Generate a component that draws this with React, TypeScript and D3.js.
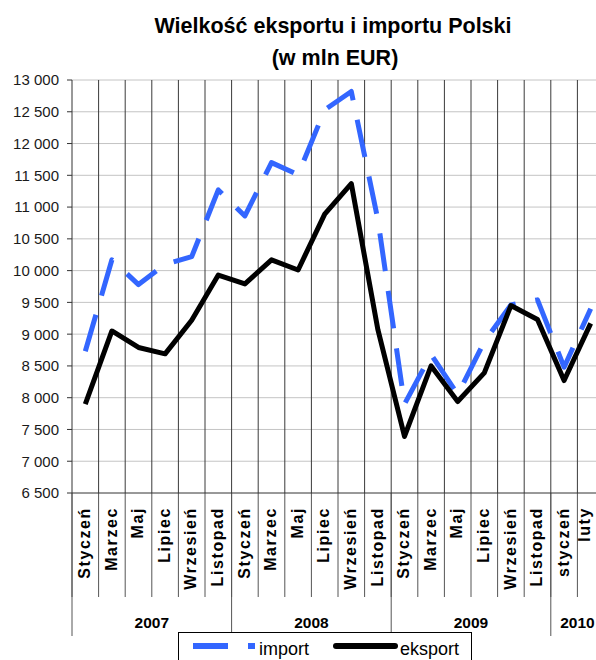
import React, { useEffect, useRef } from 'react';
import * as d3 from 'd3';

// categories (every second month)
const months = [
    'Styczeń', 'Marzec', 'Maj', 'Lipiec', 'Wrzesień', 'Listopad',
    'Styczeń', 'Marzec', 'Maj', 'Lipiec', 'Wrzesień', 'Listopad',
    'Styczeń', 'Marzec', 'Maj', 'Lipiec', 'Wrzesień', 'Listopad',
    'styczeń', 'luty',
];
const yearLabels = ['2007', '2008', '2009', '2010'];
const yearSpans = [6, 6, 6, 2];

// values in mln EUR
const importValues = [
    8730, 10170, 9780, 10100, 10220, 11270,
    10860, 11700, 11510, 12530, 12820, 10800,
    7900, 8680, 8050, 8880, 9460, 9540,
    8480, 9400,
];
const exportValues = [
    7900, 9050, 8790, 8690, 9220, 9930,
    9790, 10170, 10010, 10890, 11370, 9070,
    7390, 8500, 7940, 8390, 9450, 9230,
    8270, 9170,
];

const yTicks = d3.range(6500, 13001, 500);

export default function App() {
    const ref = useRef<SVGSVGElement>(null);

    useEffect(() => {
        const svg = d3.select(ref.current);
        svg.selectAll('*').remove();

        const W = 596, H = 660;
        const left = 72, top = 80, bottom = 493;
        const step = 26.6;
        const right = left + step * months.length;

        const x = d3.scaleBand<number>()
            .domain(d3.range(months.length))
            .range([left, right])
            .padding(0);
        const y = d3.scaleLinear().domain([6500, 13000]).range([bottom, top]);
        const fmt = (v: number) => d3.format(',')(v).replace(',', ' ');

        svg.append('rect').attr('width', W).attr('height', H).attr('fill', '#fff');

        // title
        svg.append('text')
            .attr('x', 333).attr('y', 33)
            .attr('text-anchor', 'middle')
            .style('font', 'bold 21.5px "Liberation Sans", Arial, sans-serif')
            .text('Wielkość eksportu i importu Polski');
        svg.append('text')
            .attr('x', 335).attr('y', 65)
            .attr('text-anchor', 'middle')
            .style('font', 'bold 21.5px "Liberation Sans", Arial, sans-serif')
            .text('(w mln EUR)');

        // horizontal grid
        svg.append('g').selectAll('line')
            .data(yTicks.slice(1))
            .enter().append('line')
            .attr('x1', left).attr('x2', right)
            .attr('y1', d => y(d)).attr('y2', d => y(d))
            .attr('stroke', '#c4c4c4').attr('stroke-width', 1);

        // vertical category lines inside plot
        const bounds = d3.range(months.length + 1).map(i => left + i * step);
        svg.append('g').selectAll('line')
            .data(bounds.slice(1))
            .enter().append('line')
            .attr('x1', d => d).attr('x2', d => d)
            .attr('y1', top).attr('y2', bottom)
            .attr('stroke', '#3a3a3a').attr('stroke-width', 1);

        // month separators below axis
        svg.append('g').selectAll('line')
            .data(bounds)
            .enter().append('line')
            .attr('x1', d => d).attr('x2', d => d)
            .attr('y1', bottom).attr('y2', 597)
            .attr('stroke', '#555').attr('stroke-width', 1);

        // year separators
        const yearBounds = [0, ...d3.cumsum(yearSpans)].map(i => left + i * step);
        svg.append('g').selectAll('line')
            .data(yearBounds)
            .enter().append('line')
            .attr('x1', d => d).attr('x2', d => d)
            .attr('y1', bottom).attr('y2', 636)
            .attr('stroke', '#555').attr('stroke-width', 1);

        // y axis
        svg.append('line')
            .attr('x1', left).attr('x2', left)
            .attr('y1', top).attr('y2', bottom)
            .attr('stroke', '#333');
        const yt = svg.append('g').selectAll('g')
            .data(yTicks)
            .enter().append('g');
        yt.append('line')
            .attr('x1', left - 5).attr('x2', left)
            .attr('y1', d => y(d)).attr('y2', d => y(d))
            .attr('stroke', '#333');
        yt.append('text')
            .attr('x', left - 13).attr('y', d => y(d))
            .attr('dy', '0.36em')
            .attr('text-anchor', 'end')
            .attr('fill', '#1a1a1a')
            .style('font', '15px "Liberation Sans", Arial, sans-serif')
            .text(d => fmt(d));

        // x axis line
        svg.append('line')
            .attr('x1', left).attr('x2', right)
            .attr('y1', bottom).attr('y2', bottom)
            .attr('stroke', '#333');

        // month labels (last one is pulled in so it stays inside the picture)
        svg.append('g').selectAll('text')
            .data(months)
            .enter().append('text')
            .attr('transform', (d, i) => {
                const cx = Math.min(x(i)! + x.bandwidth() / 2 - 1, W - 12);
                return `translate(${cx},507) rotate(-90)`;
            })
            .attr('dy', '0.36em')
            .attr('text-anchor', 'end')
            .style('font', 'bold 16px "Liberation Sans", Arial, sans-serif')
            .style('letter-spacing', '1.6px')
            .text(d => d);

        // year labels
        const starts = [0, ...d3.cumsum(yearSpans)];
        svg.append('g').selectAll('text')
            .data(yearLabels)
            .enter().append('text')
            .attr('x', (d, i) => left + (starts[i] + yearSpans[i] / 2) * step)
            .attr('y', 628)
            .attr('text-anchor', 'middle')
            .style('font', 'bold 15.5px "Liberation Sans", Arial, sans-serif')
            .text(d => d);

        // series
        const line = d3.line<number>()
            .x((d, i) => x(i)! + x.bandwidth() / 2)
            .y(d => y(d));

        svg.append('path')
            .datum(importValues)
            .attr('d', line)
            .attr('fill', 'none')
            .attr('stroke', '#3366ff')
            .attr('stroke-width', 5)
            .attr('stroke-dasharray', '38 20')
            .attr('stroke-linejoin', 'round');

        svg.append('path')
            .datum(exportValues)
            .attr('d', line)
            .attr('fill', 'none')
            .attr('stroke', '#000')
            .attr('stroke-width', 5)
            .attr('stroke-linejoin', 'round');

        // legend
        const lg = svg.append('g');
        lg.append('rect')
            .attr('x', 178.5).attr('y', 632.5)
            .attr('width', 293).attr('height', 40)
            .attr('fill', '#fff').attr('stroke', '#000');
        lg.append('line')
            .attr('x1', 193).attr('x2', 255)
            .attr('y1', 646).attr('y2', 646)
            .attr('stroke', '#3366ff').attr('stroke-width', 6)
            .attr('stroke-dasharray', '35 20');
        lg.append('text')
            .attr('x', 259).attr('y', 655)
            .style('font', '18px "Liberation Sans", Arial, sans-serif')
            .text('import');
        lg.append('line')
            .attr('x1', 336).attr('x2', 395)
            .attr('y1', 646).attr('y2', 646)
            .attr('stroke', '#000').attr('stroke-width', 6)
            .attr('stroke-linecap', 'round');
        lg.append('text')
            .attr('x', 400).attr('y', 655)
            .style('font', '18px "Liberation Sans", Arial, sans-serif')
            .text('eksport');
    }, []);

    return (
        <svg
            ref={ref}
            width={596}
            height={660}
            style={{ position: 'absolute', left: 0, top: 0, display: 'block' }}
        />
    );
}
